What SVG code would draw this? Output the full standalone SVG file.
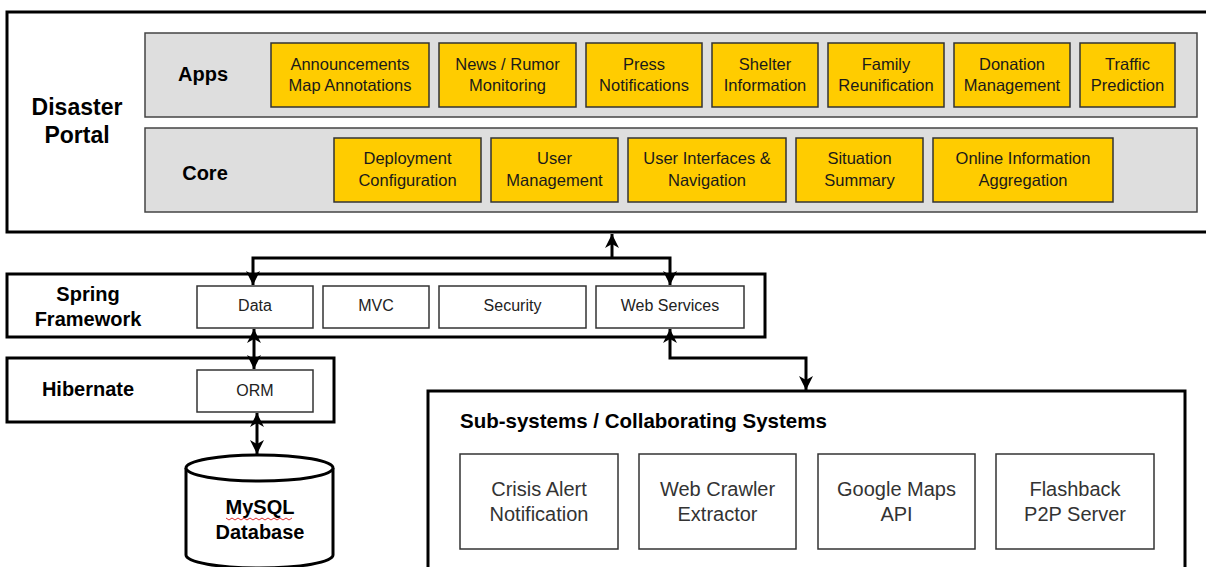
<svg xmlns="http://www.w3.org/2000/svg" width="1206" height="567" viewBox="0 0 1206 567">
<style>
  .frame{fill:#fff;stroke:#000;stroke-width:3}
  .band{fill:#dedede;stroke:#444;stroke-width:1.5}
  .yb{fill:#ffcc00;stroke:#333;stroke-width:1.5}
  .wb{fill:#fff;stroke:#333;stroke-width:1.5}
  .yt{font-family:"Liberation Sans",Arial,sans-serif;font-size:16.5px;fill:#1a1a1a;text-anchor:middle}
  .st{font-family:"Liberation Sans",Arial,sans-serif;font-size:16px;fill:#222;text-anchor:middle}
  .gt{font-family:"Liberation Sans",Arial,sans-serif;font-size:20px;fill:#333;text-anchor:middle}
  .bl{font-family:"Liberation Sans",Arial,sans-serif;font-weight:bold;fill:#000;text-anchor:middle}
  .conn{fill:none;stroke:#000;stroke-width:3}
</style>
<defs>
  <marker id="ah" markerUnits="userSpaceOnUse" markerWidth="16" markerHeight="16" refX="14" refY="8" orient="auto-start-reverse">
    <path d="M0,1 L14,8 L0,15 L4,8 z" fill="#000"/>
  </marker>
</defs>

<g id="disaster-portal">
  <rect class="frame" x="7" y="12" width="1210" height="220"/>
  <text class="bl" x="77" y="115" font-size="23">Disaster</text>
  <text class="bl" x="77" y="143" font-size="23">Portal</text>
</g>

<g id="apps">
  <rect class="band" x="145" y="33" width="1052" height="84"/>
  <text class="bl" x="203" y="81" font-size="20">Apps</text>
  <g id="app-announcements"><rect class="yb" x="271" y="43" width="158" height="64"/><text class="yt" x="350" y="70">Announcements</text><text class="yt" x="350" y="91">Map Annotations</text></g>
  <g id="app-news"><rect class="yb" x="439" y="43" width="137" height="64"/><text class="yt" x="507.5" y="70">News / Rumor</text><text class="yt" x="507.5" y="91">Monitoring</text></g>
  <g id="app-press"><rect class="yb" x="586" y="43" width="116" height="64"/><text class="yt" x="644" y="70">Press</text><text class="yt" x="644" y="91">Notifications</text></g>
  <g id="app-shelter"><rect class="yb" x="712" y="43" width="106" height="64"/><text class="yt" x="765" y="70">Shelter</text><text class="yt" x="765" y="91">Information</text></g>
  <g id="app-family"><rect class="yb" x="828" y="43" width="116" height="64"/><text class="yt" x="886" y="70">Family</text><text class="yt" x="886" y="91">Reunification</text></g>
  <g id="app-donation"><rect class="yb" x="954" y="43" width="116" height="64"/><text class="yt" x="1012" y="70">Donation</text><text class="yt" x="1012" y="91">Management</text></g>
  <g id="app-traffic"><rect class="yb" x="1080" y="43" width="95" height="64"/><text class="yt" x="1127.5" y="70">Traffic</text><text class="yt" x="1127.5" y="91">Prediction</text></g>
</g>

<g id="core">
  <rect class="band" x="145" y="128" width="1052" height="84"/>
  <text class="bl" x="205" y="180" font-size="20">Core</text>
  <g id="core-deployment"><rect class="yb" x="334" y="138" width="147" height="64"/><text class="yt" x="407.5" y="164">Deployment</text><text class="yt" x="407.5" y="186">Configuration</text></g>
  <g id="core-user"><rect class="yb" x="491" y="138" width="127" height="64"/><text class="yt" x="554.5" y="164">User</text><text class="yt" x="554.5" y="186">Management</text></g>
  <g id="core-ui"><rect class="yb" x="628" y="138" width="158" height="64"/><text class="yt" x="707" y="164">User Interfaces &amp;</text><text class="yt" x="707" y="186">Navigation</text></g>
  <g id="core-situation"><rect class="yb" x="796" y="138" width="127" height="64"/><text class="yt" x="859.5" y="164">Situation</text><text class="yt" x="859.5" y="186">Summary</text></g>
  <g id="core-online"><rect class="yb" x="933" y="138" width="180" height="64"/><text class="yt" x="1023" y="164">Online Information</text><text class="yt" x="1023" y="186">Aggregation</text></g>
</g>

<g id="spring">
  <rect class="frame" x="7" y="274" width="758" height="63"/>
  <text class="bl" x="88" y="301" font-size="20">Spring</text>
  <text class="bl" x="88" y="326" font-size="20">Framework</text>
  <g id="spring-data"><rect class="wb" x="197" y="286" width="116" height="42"/><text class="st" x="255" y="311">Data</text></g>
  <g id="spring-mvc"><rect class="wb" x="323" y="286" width="106" height="42"/><text class="st" x="376" y="311">MVC</text></g>
  <g id="spring-security"><rect class="wb" x="439" y="286" width="147" height="42"/><text class="st" x="512.5" y="311">Security</text></g>
  <g id="spring-ws"><rect class="wb" x="596" y="286" width="148" height="42"/><text class="st" x="670" y="311">Web Services</text></g>
</g>

<g id="hibernate">
  <rect class="frame" x="7" y="358" width="327" height="64"/>
  <text class="bl" x="88" y="396" font-size="20">Hibernate</text>
  <g id="hibernate-orm"><rect class="wb" x="197" y="370" width="116" height="42"/><text class="st" x="255" y="396">ORM</text></g>
</g>

<g id="mysql">
  <path d="M186,468 L186,555 A73.5,13 0 0 0 333,555 L333,468" fill="#fff" stroke="#000" stroke-width="3"/>
  <ellipse cx="259.5" cy="468" rx="73.5" ry="13" fill="#fff" stroke="#000" stroke-width="3"/>
  <text class="bl" x="260" y="514" font-size="20">MySQL</text>
  <path d="M226,518 l3,2 l3,-2 l3,2 l3,-2 l3,2 l3,-2 l3,2 l3,-2 l3,2 l3,-2 l3,2 l3,-2 l3,2 l3,-2 l3,2 l3,-2 l3,2 l3,-2 l3,2 l3,-2 l3,2 l3,-2" fill="none" stroke="#e03030" stroke-width="1"/>
  <text class="bl" x="260" y="539" font-size="20">Database</text>
</g>

<g id="subsystems">
  <rect class="frame" x="428" y="391" width="757" height="190"/>
  <text class="bl" x="460" y="428" font-size="20.5" style="text-anchor:start">Sub-systems / Collaborating Systems</text>
  <g id="sub-crisis"><rect class="wb" x="460" y="454" width="158" height="95"/><text class="gt" x="539" y="496">Crisis Alert</text><text class="gt" x="539" y="521">Notification</text></g>
  <g id="sub-crawler"><rect class="wb" x="639" y="454" width="157" height="95"/><text class="gt" x="717.5" y="496">Web Crawler</text><text class="gt" x="717.5" y="521">Extractor</text></g>
  <g id="sub-maps"><rect class="wb" x="818" y="454" width="157" height="95"/><text class="gt" x="896.5" y="496">Google Maps</text><text class="gt" x="896.5" y="521">API</text></g>
  <g id="sub-flashback"><rect class="wb" x="996" y="454" width="158" height="95"/><text class="gt" x="1075" y="496">Flashback</text><text class="gt" x="1075" y="521">P2P Server</text></g>
</g>

<g id="connectors">
  <path class="conn" d="M612,258 L612,234" marker-end="url(#ah)"/>
  <path class="conn" d="M253,285 L253,258 L670,258 L670,285" marker-start="url(#ah)" marker-end="url(#ah)"/>
  <path class="conn" d="M254,329 L254,369" marker-start="url(#ah)" marker-end="url(#ah)"/>
  <path class="conn" d="M257,413 L257,454" marker-start="url(#ah)" marker-end="url(#ah)"/>
  <path class="conn" d="M670,329 L670,358 L806,358 L806,390" marker-start="url(#ah)" marker-end="url(#ah)"/>
</g>
</svg>
